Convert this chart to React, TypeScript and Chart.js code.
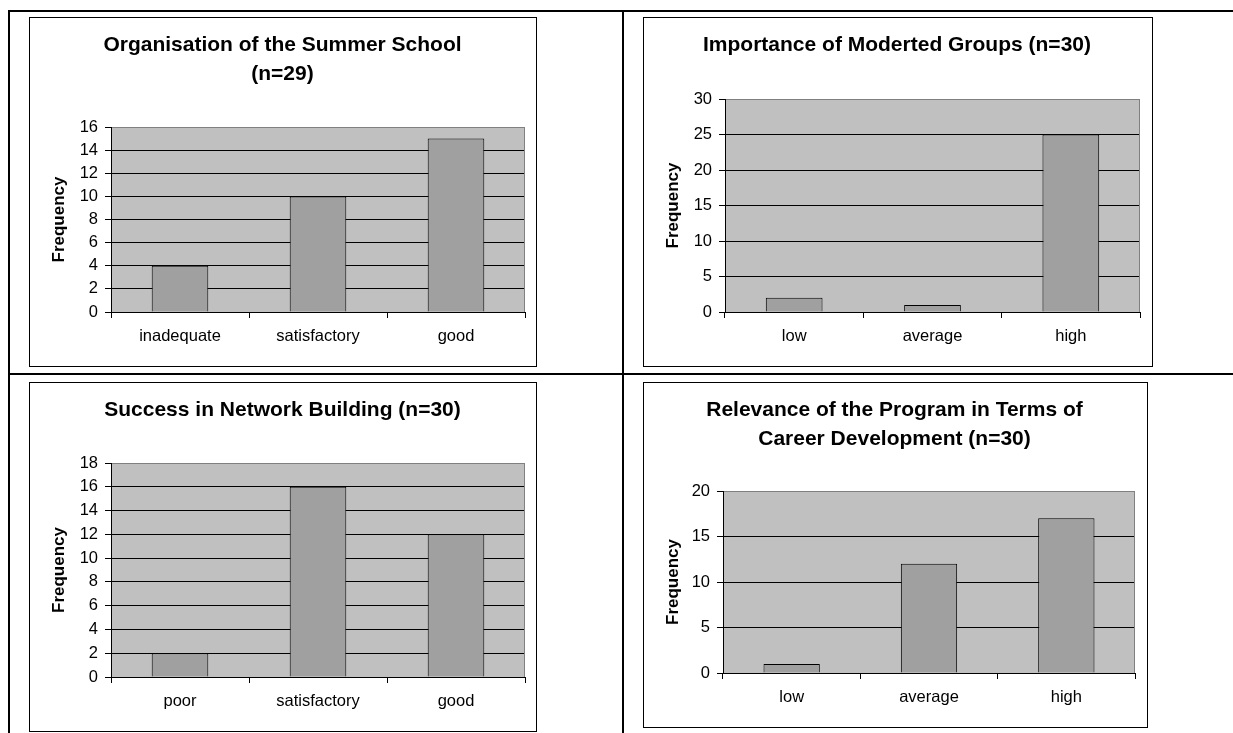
import React, { useEffect, useRef } from "react";
import { Chart, registerables } from "chart.js";

Chart.register(...registerables);

// ---------- data ----------
const titleLines1 = ["Organisation of the Summer School", "(n=29)"];
const categories1 = ["inadequate", "satisfactory", "good"];
const values1 = [4, 10, 15];
const yMax1 = 16;
const yStep1 = 2;

const titleLines2 = ["Importance of Moderted Groups (n=30)"];
const categories2 = ["low", "average", "high"];
const values2 = [2, 1, 25];
const yMax2 = 30;
const yStep2 = 5;

const titleLines3 = ["Success in Network Building (n=30)"];
const categories3 = ["poor", "satisfactory", "good"];
const values3 = [2, 16, 12];
const yMax3 = 18;
const yStep3 = 2;

const titleLines4 = ["Relevance of the Program in Terms of", "Career Development (n=30)"];
const categories4 = ["low", "average", "high"];
const values4 = [1, 12, 17];
const yMax4 = 20;
const yStep4 = 5;

const yAxisTitle = "Frequency";

// ---------- layout ----------
const FONT = "'Liberation Sans', Arial, Helvetica, sans-serif";

type Rect = { x: number; y: number; w: number; h: number };
type Plot = { l: number; t: number; r: number; b: number };

const panels = [
  {
    box: { x: 29, y: 17, w: 508, h: 350 },
    plot: { l: 111, t: 127, r: 525, b: 312 },
    titleY: 45,
    lines: titleLines1,
    categories: categories1,
    values: values1,
    yMax: yMax1,
    yStep: yStep1,
  },
  {
    box: { x: 643, y: 17, w: 510, h: 350 },
    plot: { l: 725, t: 99, r: 1140, b: 312 },
    titleY: 45,
    lines: titleLines2,
    categories: categories2,
    values: values2,
    yMax: yMax2,
    yStep: yStep2,
  },
  {
    box: { x: 29, y: 382, w: 508, h: 350 },
    plot: { l: 111, t: 463, r: 525, b: 677 },
    titleY: 410,
    lines: titleLines3,
    categories: categories3,
    values: values3,
    yMax: yMax3,
    yStep: yStep3,
  },
  {
    box: { x: 643, y: 382, w: 505, h: 346 },
    plot: { l: 723, t: 491, r: 1135, b: 673 },
    titleY: 410,
    lines: titleLines4,
    categories: categories4,
    values: values4,
    yMax: yMax4,
    yStep: yStep4,
  },
];

const plotAreaPlugin = {
  id: "plotArea",
  beforeDraw(chart: any) {
    const { ctx, chartArea } = chart;
    ctx.save();
    ctx.fillStyle = "#C0C0C0";
    ctx.fillRect(chartArea.left, chartArea.top, chartArea.right - chartArea.left, chartArea.bottom - chartArea.top);
    ctx.restore();
  },
  beforeDatasetsDraw(chart: any) {
    const { ctx, chartArea } = chart;
    ctx.save();
    ctx.strokeStyle = "#808080";
    ctx.lineWidth = 1;
    const x = Math.round(chartArea.right) - 0.5;
    ctx.beginPath();
    ctx.moveTo(x, chartArea.top);
    ctx.lineTo(x, chartArea.bottom);
    ctx.stroke();
    ctx.restore();
  },
};

function Panel(props: {
  box: Rect;
  plot: Plot;
  titleY: number;
  lines: string[];
  categories: string[];
  values: number[];
  yMax: number;
  yStep: number;
}) {
  const ref = useRef<HTMLCanvasElement | null>(null);
  const { box, plot, titleY, lines, categories, values, yMax, yStep } = props;
  const W = box.w - 2;
  const H = box.h - 2;

  useEffect(() => {
    if (!ref.current) return;
    const ox = box.x + 1;
    const oy = box.y + 1;
    const pl = plot.l - ox;
    const pt = plot.t - oy;
    const pr = plot.r - ox;
    const pb = plot.b - oy;
    const padL = 10;
    const padB = 6;
    const titleSize = 21;
    const titleLH = 29;
    const tPadTop = titleY - oy - titleLH / 2;
    const tPadBottom = pt - tPadTop - titleLH * lines.length;

    const chart = new Chart(ref.current, {
      type: "bar",
      data: {
        labels: categories,
        datasets: [
          {
            data: values,
            backgroundColor: "#A0A0A0",
            borderColor: "#000000",
            borderWidth: 1,
            barPercentage: 0.41,
            categoryPercentage: 1,
          },
        ],
      },
      options: {
        responsive: false,
        animation: false,
        devicePixelRatio: 1,
        layout: { padding: { left: padL, right: W - pr, top: 0, bottom: padB } },
        plugins: {
          legend: { display: false },
          tooltip: { enabled: false },
          title: {
            display: true,
            text: lines,
            color: "#000000",
            font: { family: FONT, size: titleSize, weight: "bold", lineHeight: titleLH / titleSize },
            padding: { top: tPadTop, bottom: tPadBottom },
          },
        },
        scales: {
          x: {
            grid: {
              display: true,
              drawOnChartArea: false,
              drawTicks: true,
              tickLength: 6,
              color: "#000000",
              offset: true,
            },
            border: { display: true, color: "#000000", width: 1 },
            ticks: {
              color: "#000000",
              font: { family: FONT, size: 16.5 },
              padding: 9,
              maxRotation: 0,
              autoSkip: false,
            },
            afterFit: (s: any) => {
              s.height = H - pb - padB;
            },
          },
          y: {
            min: 0,
            max: yMax,
            ticks: {
              stepSize: yStep,
              color: "#000000",
              font: { family: FONT, size: 16.5 },
              padding: 7,
            },
            grid: {
              color: (c: any) => (c.tick && c.tick.value === yMax ? "#808080" : "#000000"),
              tickColor: "#000000",
              tickLength: 6,
              drawTicks: true,
            },
            border: { display: true, color: "#000000", width: 1 },
            title: {
              display: true,
              text: yAxisTitle,
              color: "#000000",
              font: { family: FONT, size: 17, weight: "bold" },
              padding: { top: 9, bottom: 0 },
            },
            afterFit: (s: any) => {
              s.width = pl - padL;
            },
          },
        },
      } as any,
      plugins: [plotAreaPlugin],
    });
    return () => chart.destroy();
  }, []);

  return (
    <div
      style={{
        position: "absolute",
        left: box.x,
        top: box.y,
        width: box.w,
        height: box.h,
        border: "1px solid #000",
        boxSizing: "border-box",
        background: "#fff",
      }}
    >
      <canvas ref={ref} width={W} height={H} style={{ display: "block", width: W, height: H }} />
    </div>
  );
}

export default function App() {
  const line = (l: number, t: number, w: number, h: number) => (
    <div style={{ position: "absolute", left: l, top: t, width: w, height: h, background: "#000" }} />
  );
  return (
    <div
      style={{
        position: "fixed",
        left: 0,
        top: 0,
        width: 1233,
        height: 733,
        background: "#fff",
        overflow: "hidden",
        fontFamily: FONT,
      }}
    >
      {line(8, 10, 1240, 2)}
      {line(8, 10, 2, 740)}
      {line(622, 10, 2, 740)}
      {line(8, 373, 1240, 2)}
      {panels.map((p, i) => (
        <Panel key={i} {...p} />
      ))}
    </div>
  );
}
